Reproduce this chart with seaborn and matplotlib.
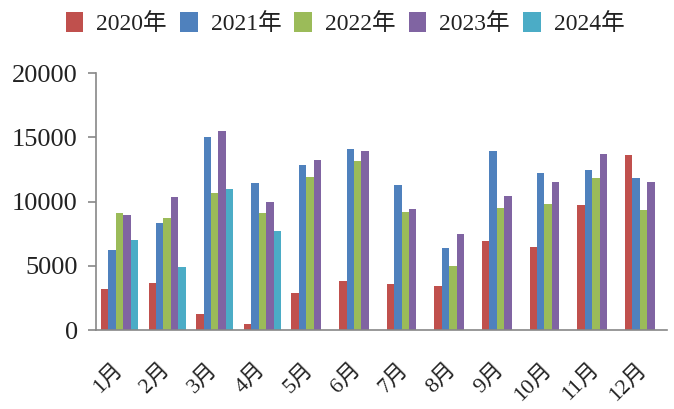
import numpy as np
import pandas as pd
import matplotlib
matplotlib.use("Agg")
import matplotlib.pyplot as plt
import matplotlib.transforms as mtransforms
import seaborn as sns

months = ["1月", "2月", "3月", "4月", "5月", "6月", "7月", "8月", "9月", "10月", "11月", "12月"]
years = ["2020年", "2021年", "2022年", "2023年", "2024年"]
v2020 = [3200, 3650, 1220, 470, 2900, 3800, 3600, 3400, 6900, 6450, 9700, 13600]
v2021 = [6200, 8300, 15050, 11450, 12850, 14100, 11300, 6350, 13950, 12250, 12450, 11800]
v2022 = [9070, 8700, 10650, 9070, 11900, 13150, 9150, 4970, 9500, 9770, 11800, 9350]
v2023 = [8960, 10350, 15500, 10000, 13200, 13950, 9450, 7450, 10450, 11550, 13700, 11500]
v2024 = [7000, 4900, 11000, 7670, np.nan, np.nan, np.nan, np.nan, np.nan, np.nan, np.nan, np.nan]
colors = ["#C0504D", "#4F81BD", "#9BBB59", "#8064A2", "#4BACC6"]
yticks = [0, 5000, 10000, 15000, 20000]

series = [v2020, v2021, v2022, v2023, v2024]
rows = []
for yr, vals in zip(years, series):
    for m, v in zip(months, vals):
        rows.append({"month": m, "year": yr, "value": v})
df = pd.DataFrame(rows)

sns.set_style("white")
plt.rcParams["font.family"] = ["Liberation Serif", "Noto Sans CJK SC"]

fig = plt.figure(figsize=(6.74, 4.09), dpi=100)
ax = fig.add_axes([0.142, 0.193, 0.848, 0.6285])

sns.barplot(data=df, x="month", y="value", hue="year", order=months,
            hue_order=years, palette=colors, width=0.78, errorbar=None,
            saturation=1, ax=ax, legend=True, linewidth=0, edgecolor="none")

ax.set_xlim(-0.5, len(months) - 0.5)
ax.set_ylim(0, 20000)
ax.set_yticks(yticks)
ax.set_yticklabels([str(t) for t in yticks], fontsize=19, color="#222222")
ax.set_xlabel("")
ax.set_ylabel("")

for s in ["top", "right"]:
    ax.spines[s].set_visible(False)
for s in ["left", "bottom"]:
    ax.spines[s].set_color("#888888")
    ax.spines[s].set_linewidth(1.2)

ax.set_xticks(np.arange(len(months)))
ax.set_xticklabels(months, rotation=45, ha="right", va="center",
                   rotation_mode="anchor", fontsize=16, color="#222222")
offset = mtransforms.ScaledTranslation(-17 / 100, 0, fig.dpi_scale_trans)
for lab in ax.get_xticklabels():
    lab.set_transform(lab.get_transform() + offset)
ax.set_xticks(np.arange(len(months) + 1) - 0.5, minor=True)
ax.tick_params(axis="x", which="major", length=0, pad=26)
ax.tick_params(axis="x", which="minor", length=6, color="#888888", width=1.2, direction="out")
ax.tick_params(axis="y", which="major", length=6, color="#888888", width=1.2, direction="out", left=True, pad=7)

leg = ax.get_legend()
handles, labels = ax.get_legend_handles_labels()
leg.remove()
fig.legend(handles, labels, loc="center", bbox_to_anchor=(0.512, 0.943), ncol=5,
           frameon=False, fontsize=17, handlelength=0.75, handleheight=0.95,
           handletextpad=0.55, columnspacing=0.55, borderaxespad=0,
           labelcolor="#222222")

fig.savefig("out.png", dpi=100)
